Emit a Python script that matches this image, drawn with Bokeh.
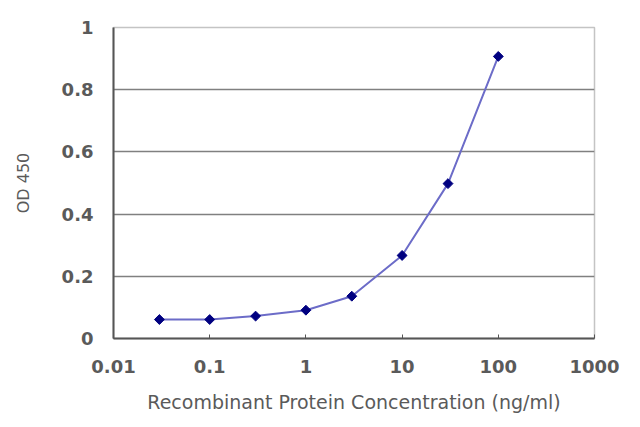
from bokeh.embed import file_html
from bokeh.models import FixedTicker
from bokeh.plotting import figure
from bokeh.resources import INLINE

# concentration (ng/ml) and measured OD 450
concentration = [0.03, 0.1, 0.3, 1, 3, 10, 30, 100]
od450 = [0.061, 0.061, 0.072, 0.091, 0.136, 0.267, 0.498, 0.907]

x_ticks = [0.01, 0.1, 1, 10, 100, 1000]
x_tick_labels = ["0.01", "0.1", "1", "10", "100", "1000"]
y_ticks = [0, 0.2, 0.4, 0.6, 0.8, 1]
y_tick_labels = ["0", "0.2", "0.4", "0.6", "0.8", "1"]

text_gray = "#5a5a5a"
font = "DejaVu Sans"

p = figure(
    x_axis_type="log",
    x_range=(0.01, 1000),
    y_range=(0, 1),
    frame_width=481,
    frame_height=311,
    min_border_left=113,
    min_border_right=30,
    min_border_top=27,
    min_border_bottom=73,
    x_axis_label="Recombinant Protein Concentration (ng/ml)",
    y_axis_label="OD 450",
    output_backend="svg",
    toolbar_location=None,
)

p.outline_line_color = "#c4c4c4"
p.outline_line_width = 1.5

p.xaxis.ticker = FixedTicker(ticks=x_ticks)
p.xaxis.major_label_overrides = dict(zip(x_ticks, x_tick_labels))
p.yaxis.ticker = FixedTicker(ticks=y_ticks)
p.yaxis.major_label_overrides = dict(zip(y_ticks, y_tick_labels))

p.axis.axis_line_color = "#555555"
p.axis.axis_line_width = 2
p.axis.minor_tick_line_color = None
p.axis.major_label_text_font = font
p.axis.major_label_text_font_style = "bold"
p.axis.major_label_text_font_size = "18px"
p.axis.major_label_text_color = text_gray
p.axis.axis_label_text_font = font
p.axis.axis_label_text_font_style = "normal"
p.axis.axis_label_text_color = text_gray

p.xaxis.major_tick_in = 4
p.xaxis.major_tick_out = 0
p.xaxis.major_tick_line_color = "#555555"
p.xaxis.major_label_standoff = 21
p.xaxis.axis_label_text_font_size = "19px"
p.xaxis.axis_label_standoff = 15

p.yaxis.major_tick_in = 0
p.yaxis.major_tick_out = 0
p.yaxis.major_label_standoff = 20
p.yaxis.axis_label_text_font_size = "16px"
p.yaxis.axis_label_standoff = 26

p.xgrid.grid_line_color = None
p.ygrid.ticker = FixedTicker(ticks=[0.2, 0.4, 0.6, 0.8])
p.ygrid.grid_line_color = "#808080"
p.ygrid.grid_line_width = 1.5

p.line(concentration, od450, line_color="#6c6cc8", line_width=2)
# rotated squares give the squat Excel-style diamonds
p.scatter(concentration, od450, marker="square", angle=0.785, size=7,
          fill_color="#000080", line_color="#000080")

open("out.html", "w").write(file_html(p, INLINE))
